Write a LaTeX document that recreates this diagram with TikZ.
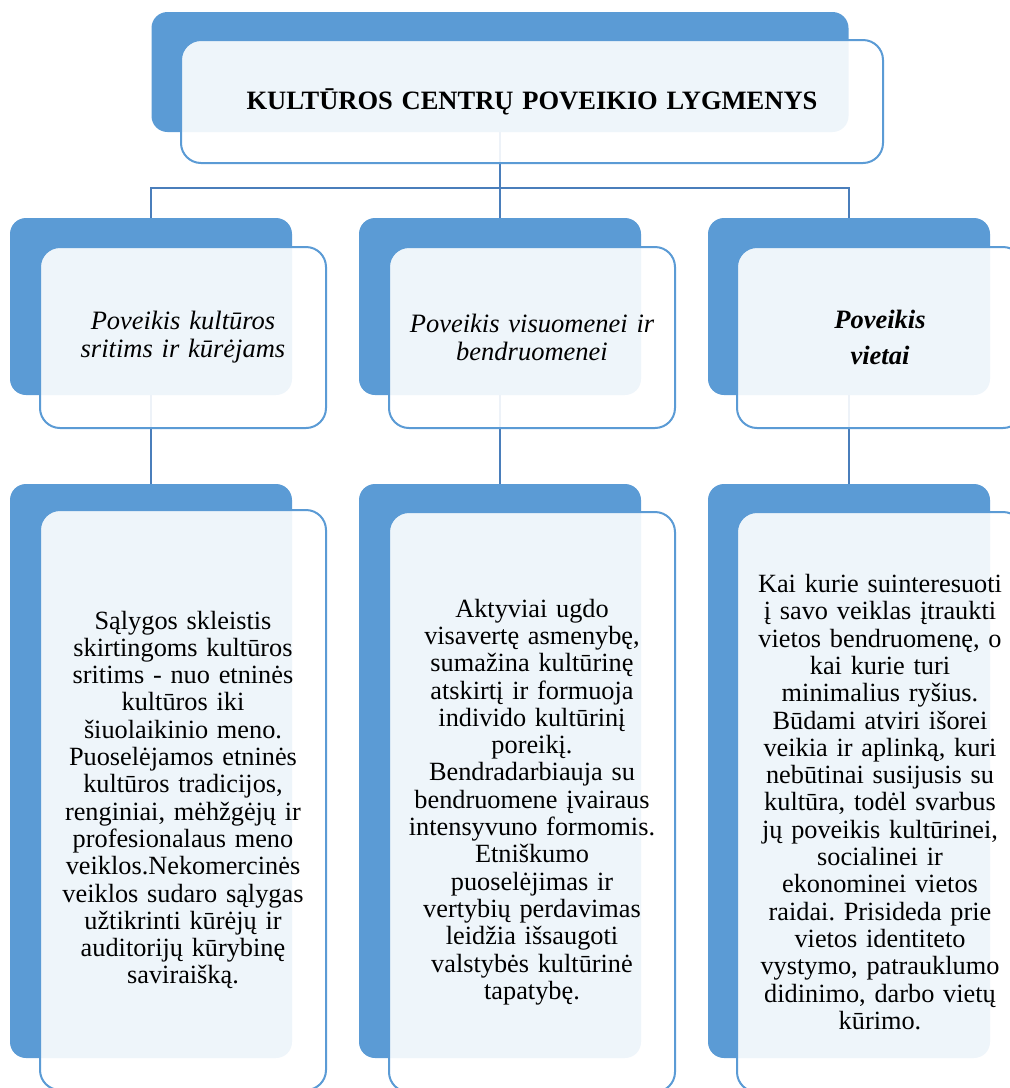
\documentclass[tikz,border=0pt]{standalone}
\usepackage{fontspec}
\setmainfont{Liberation Serif}
\usetikzlibrary{positioning}
\frenchspacing

\definecolor{boxblue}{RGB}{91,155,213}
\definecolor{linkblue}{RGB}{74,126,187}

\begin{document}
\begin{tikzpicture}[x=1pt, y=-1pt,
		back/.style  = {rectangle, fill=boxblue, rounded corners=16pt, inner sep=0pt},
		front/.style = {rectangle, draw=boxblue, line width=2pt, fill=white, fill opacity=0.9, text opacity=1, rounded corners=20pt, inner sep=0pt, align=center, text width=276pt},
		head/.style  = {front, minimum width=286pt, minimum height=181pt, font=\fontsize{26.5}{28}\selectfont\itshape},
		body/.style  = {front, minimum width=286pt, minimum height=580pt, font=\fontsize{26.3}{27.3}\selectfont},
		link/.style  = {draw=linkblue, line width=2pt}]
		
		\useasboundingbox (0,0) rectangle (1010,1088);
		
		% Blue boxes behind, level 1 to 3
		\node[back, minimum width=697pt, minimum height=120pt] (rb) at (500,72) {};
		\foreach \i/\x in {1/151,2/500,3/849}{
			\node[back, minimum width=282pt, minimum height=177pt] (c\i b) at (\x,306.5) {};
			\node[back, minimum width=282pt, minimum height=574pt] (c\i1b) at (\x,771) {};
		}
		
		% Lines from the root to every level and down to the texts
		\foreach \i in {1,2,3}{
			\draw[link] (rb.south) -- ++(0,56) -| (c\i b.north);
			\draw[link] (c\i b.south) -- (c\i1b.north);
		}
		
		% Root of the diagram
		\node[front, minimum width=702pt, minimum height=123pt, text width=680pt, font=\fontsize{26.5}{30}\selectfont\bfseries] (r) at (532,101.5) {KULTŪROS CENTRŲ POVEIKIO LYGMENYS};
		
		% Second level
		\node[head] (c1) at (183,337.5) {Poveikis kultūros\\sritims ir kūrėjams};
		\node[head] (c2) at (532,337.5) {Poveikis visuomenei ir\\bendruomenei};
		\node[head, font=\fontsize{26.5}{36}\selectfont\bfseries\itshape] (c3) at (880,337.5) {Poveikis\\vietai};
		
		% Third level, the texts
		\node[body] (c11) at (183,800) {Sąlygos skleistis\\skirtingoms kultūros\\sritims - nuo etninės\\kultūros iki\\šiuolaikinio meno.\\Puoselėjamos etninės\\kultūros tradicijos,\\renginiai, mėhžgėjų ir\\profesionalaus meno\\veiklos.Nekomercinės\\veiklos sudaro sąlygas\\užtikrinti kūrėjų ir\\auditorijų kūrybinę\\saviraišką.};
		\node[body] (c21) at (532,802) {Aktyviai ugdo\\visavertę asmenybę,\\sumažina kultūrinę\\atskirtį ir formuoja\\individo kultūrinį\\poreikį.\\Bendradarbiauja su\\bendruomene įvairaus\\intensyvuno formomis.\\Etniškumo\\puoselėjimas ir\\vertybių perdavimas\\leidžia išsaugoti\\valstybės kultūrinė\\tapatybę.};
		\node[body] (c31) at (880,802) {Kai kurie suinteresuoti\\į savo veiklas įtraukti\\vietos bendruomenę, o\\kai kurie turi\\minimalius ryšius.\\Būdami atviri išorei\\veikia ir aplinką, kuri\\nebūtinai susijusis su\\kultūra, todėl svarbus\\jų poveikis kultūrinei,\\socialinei ir\\ekonominei vietos\\raidai. Prisideda prie\\vietos identiteto\\vystymo, patrauklumo\\didinimo, darbo vietų\\kūrimo.};
		
	\end{tikzpicture}
\end{document}
